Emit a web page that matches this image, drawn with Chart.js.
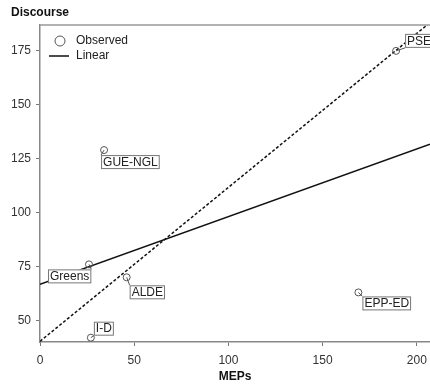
<!DOCTYPE html>
<html>
<head>
<meta charset="utf-8">
<script src="https://cdn.jsdelivr.net/npm/chart.js@4/dist/chart.umd.min.js"></script>
<style>
  body { margin: 0; background: #fff; }
  #caixa { width: 430px; height: 384px; overflow: hidden; }
  canvas { display: block; }
</style>
</head>
<body>
<div id="caixa"><canvas id="grafico" width="435" height="384"></canvas></div>
<script>
// observed values (MEPs vs discourse)
const partidos = ['PSE', 'GUE-NGL', 'Greens', 'ALDE', 'I-D', 'EPP-ED'];
const meps = [189, 34, 26, 46, 27, 169];
const discurso = [175, 129, 76, 70, 42, 63];

// fitted lines, read at the left and right edge of the plot
const linhaX = [0, 207];
const linear = [66.8, 131.7];
const tracejada = [40.3, 188.1];

const ticksX = [0, 50, 100, 150, 200];
const ticksY = [50, 75, 100, 125, 150, 175];

// label box offsets from each point (px)
const deslocamentos = [[9, -17], [-3, 5], [-41, 5], [3, 8], [3, -16], [4, 4]];

const fonte = '"Liberation Sans", Arial, sans-serif';

const rotulos = {
    id: 'rotulos',
    afterDatasetsDraw(chart) {
        const ctx = chart.ctx;
        const meta = chart.getDatasetMeta(0);
        ctx.save();
        ctx.font = '12px ' + fonte;
        ctx.textBaseline = 'middle';
        meta.data.forEach((pt, i) => {
            const w = ctx.measureText(partidos[i]).width + 4;
            const h = 14;
            const bx = pt.x + deslocamentos[i][0];
            const by = pt.y + deslocamentos[i][1];
            // leader to the nearest corner
            const cantos = [[bx, by], [bx + w, by], [bx, by + h], [bx + w, by + h]];
            let melhor = cantos[0], dmin = Infinity;
            cantos.forEach(c => {
                const d = Math.hypot(c[0] - pt.x, c[1] - pt.y);
                if (d < dmin) { dmin = d; melhor = c; }
            });
            ctx.strokeStyle = '#555';
            ctx.lineWidth = 1;
            ctx.beginPath();
            ctx.moveTo(pt.x, pt.y);
            ctx.lineTo(melhor[0], melhor[1]);
            ctx.stroke();
            ctx.fillStyle = '#fff';
            ctx.fillRect(bx, by, w, h);
            ctx.strokeStyle = '#777';
            ctx.strokeRect(bx + 0.5, by + 0.5, w - 1, h - 1);
            ctx.fillStyle = '#222';
            ctx.fillText(partidos[i], bx + 2, by + h / 2 + 0.5);
        });
        ctx.restore();
    }
};

const moldura = {
    id: 'moldura',
    afterDraw(chart) {
        const ctx = chart.ctx;
        const a = chart.chartArea;
        ctx.save();
        ctx.strokeStyle = '#999';
        ctx.lineWidth = 1.5;
        ctx.beginPath();
        ctx.moveTo(a.left, a.top);
        ctx.lineTo(a.right, a.top);
        ctx.stroke();
        // title
        ctx.fillStyle = '#111';
        ctx.font = 'bold 12px ' + fonte;
        ctx.textBaseline = 'middle';
        ctx.fillText('Discourse', 11, 13);
        // legend
        ctx.font = '12px ' + fonte;
        ctx.fillStyle = '#222';
        ctx.strokeStyle = '#555';
        ctx.lineWidth = 1;
        ctx.beginPath();
        ctx.arc(60, 41, 5, 0, Math.PI * 2);
        ctx.stroke();
        ctx.fillText(chart.data.datasets[0].label, 76, 41);
        ctx.strokeStyle = '#111';
        ctx.lineWidth = 1.5;
        ctx.beginPath();
        ctx.moveTo(49, 56);
        ctx.lineTo(69, 56);
        ctx.stroke();
        ctx.fillText(chart.data.datasets[1].label, 76, 56);
        ctx.restore();
    }
};

const ctx = document.getElementById('grafico').getContext('2d');
new Chart(ctx, {
    type: 'scatter',
    data: {
        datasets: [{
            label: 'Observed',
            data: meps.map((m, i) => ({ x: m, y: discurso[i] })),
            pointStyle: 'circle',
            pointRadius: 3.5,
            borderColor: '#555',
            backgroundColor: 'rgba(0,0,0,0)',
            borderWidth: 1
        }, {
            type: 'line',
            label: 'Linear',
            data: linhaX.map((x, i) => ({ x: x, y: linear[i] })),
            borderColor: '#111',
            borderWidth: 1.5,
            pointRadius: 0,
            fill: false
        }, {
            type: 'line',
            label: '',
            data: linhaX.map((x, i) => ({ x: x, y: tracejada[i] })),
            borderColor: '#111',
            borderWidth: 1.5,
            borderDash: [3, 2],
            pointRadius: 0,
            fill: false
        }]
    },
    options: {
        responsive: false,
        animation: false,
        layout: { padding: { top: 25, right: 0, left: 0, bottom: 0 } },
        plugins: { legend: { display: false }, tooltip: { enabled: false } },
        scales: {
            x: {
                type: 'linear',
                min: 0, max: 207,
                afterBuildTicks: s => { s.ticks = ticksX.map(v => ({ value: v })); },
                afterFit: s => { s.height = 42; },
                grid: { drawOnChartArea: false, tickLength: 4, color: '#777' },
                border: { color: '#888', width: 1.5 },
                ticks: { color: '#333', font: { family: fonte, size: 12 }, padding: 7, maxRotation: 0 },
                title: { display: true, text: 'MEPs', color: '#111', font: { family: fonte, size: 12, weight: 'bold' }, padding: { top: 0, bottom: 0 } }
            },
            y: {
                type: 'linear',
                min: 40, max: 187,
                afterBuildTicks: s => { s.ticks = ticksY.map(v => ({ value: v })); },
                afterFit: s => { s.width = 40; },
                grid: { drawOnChartArea: false, tickLength: 4, color: '#777' },
                border: { color: '#888', width: 1.5 },
                ticks: { color: '#333', font: { family: fonte, size: 12 }, padding: 5 }
            }
        }
    },
    plugins: [rotulos, moldura]
});
</script>
</body>
</html>
